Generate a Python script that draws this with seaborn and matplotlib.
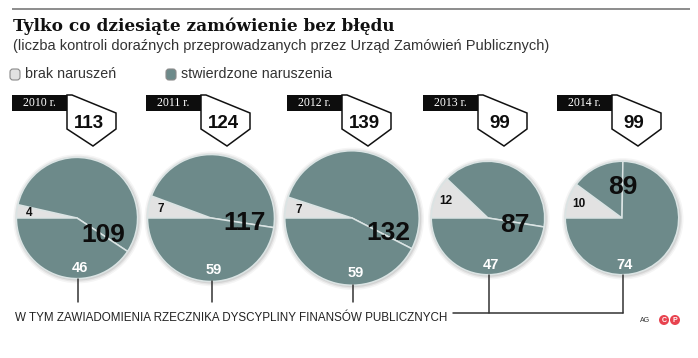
import numpy as np
import matplotlib
matplotlib.use("Agg")
import matplotlib.pyplot as plt
import matplotlib.patches as mpatches
import seaborn as sns

# data
years = ["2010 r.", "2011 r.", "2012 r.", "2013 r.", "2014 r."]
totals = [113, 124, 139, 99, 99]
brak = [4, 7, 7, 12, 10]              # brak naruszeń
stwierdzone = [109, 117, 132, 87, 89]  # stwierdzone naruszenia
rzecznik = [46, 59, 59, 47, 74]        # w tym zawiadomienia rzecznika

# layout (pixels, y measured from the top)
W, H = 698, 358
centers_x = [77, 211, 352, 488, 622]
center_y = 218
big_off = [(26, 17), (34, 5), (36, 15), (27, 7), (1, -31)]

TEAL = "#6d8a8a"
LIGHT = "#e2e2e2"
EDGE = "#dbe4e4"

sns.set_theme(style="white")
plt.rcParams["font.family"] = ["Liberation Sans", "DejaVu Sans"]


def Y(py):
    return H - py


fig = plt.figure(figsize=(W / 100, H / 100), dpi=100)
ax = fig.add_axes([0, 0, 1, 1])

# header
ax.plot([12, 690], [Y(9), Y(9)], color="#8c8c8c", lw=1.4, solid_capstyle="butt")
ax.text(13, Y(31), "Tylko co dziesiąte zamówienie bez błędu", fontsize=12.2,
        fontweight="bold", family=["DejaVu Serif"], color="#111111")
ax.text(13, Y(50), "(liczba kontroli doraźnych przeprowadzanych przez Urząd Zamówień Publicznych)",
        fontsize=10.5, color="#333333")

for x0, col, lab in [(10, LIGHT, "brak naruszeń"), (166, TEAL, "stwierdzone naruszenia")]:
    ax.add_patch(mpatches.FancyBboxPatch((x0, Y(80)), 10, 11, boxstyle="round,pad=0,rounding_size=3",
                                         fc=col, ec="#8a8a8a", lw=0.8))
    ax.text(x0 + 15, Y(74), lab, fontsize=10.3, va="center", color="#333333")

for i in range(len(years)):
    cx, cy = centers_x[i], Y(center_y)
    r = 5.7 * np.sqrt(totals[i])

    # soft shadow
    for k, a in [(4, 0.04), (2.5, 0.06), (1.2, 0.08)]:
        ax.add_patch(mpatches.Circle((cx + 0.8, cy - 0.8), r + k, fc="black", ec="none", alpha=a))

    wedges, _ = ax.pie([brak[i], stwierdzone[i] - rzecznik[i], rzecznik[i]],
                       colors=[LIGHT, TEAL, TEAL], startangle=180, counterclock=False,
                       center=(cx, cy), radius=r, frame=True,
                       wedgeprops=dict(edgecolor=EDGE, linewidth=1.1))

    w = wedges[0]
    mid = np.deg2rad((w.theta1 + w.theta2) / 2)
    ax.text(cx + 0.8 * r * np.cos(mid), cy + 0.8 * r * np.sin(mid), str(brak[i]),
            fontsize=8.5, fontweight="bold", ha="center", va="center", color="#111111")
    dx, dy = big_off[i]
    ax.text(cx + dx, cy - dy, str(stwierdzone[i]), fontsize=19, fontweight="bold",
            ha="center", va="center", color="#0d0d0d")
    ax.text(cx + 0.05 * r, cy - 0.82 * r, str(rzecznik[i]), fontsize=10.5, fontweight="bold",
            ha="center", va="center", color="white")

    # year box with arrow
    bx = cx - 10
    pts = [(0, 0), (5, 0), (49, 18), (49, 34), (26, 51), (0, 34)]
    ax.add_patch(mpatches.Polygon([(bx + px, Y(95 + py)) for px, py in pts], closed=True,
                                  fc="white", ec="#111111", lw=1.1, joinstyle="miter"))
    ax.add_patch(mpatches.Rectangle((bx - 55, Y(111)), 55, 16, fc="#0d0d0d", ec="none"))
    ax.text(bx - 27.5, Y(103), years[i], fontsize=8.5, color="white", ha="center", va="center",
            family=["Liberation Serif", "DejaVu Serif"])
    ax.text(bx + 22, Y(123), str(totals[i]), fontsize=13.5, fontweight="bold",
            ha="center", va="center", color="#0d0d0d")

    # leader lines
    y_end = 302 if i < 3 else 313
    ax.plot([cx + 1, cx + 1], [cy - r, Y(y_end)], color="#333333", lw=1.1)

ax.plot([453, centers_x[4] + 1], [Y(313), Y(313)], color="#333333", lw=1.1)
ax.text(15, Y(318), "W TYM ZAWIADOMIENIA RZECZNIKA DYSCYPLINY FINANSÓW PUBLICZNYCH",
        fontsize=8.4, va="center", color="#222222")

ax.text(640, Y(321), "AG", fontsize=5, va="center", color="#333333")
for x0, ch in [(664, "C"), (675, "P")]:
    ax.add_patch(mpatches.Circle((x0, Y(320)), 5, fc="#e8434f", ec="none"))
    ax.text(x0, Y(320), ch, fontsize=5, fontweight="bold", color="white", ha="center", va="center")

ax.set_xlim(0, W)
ax.set_ylim(0, H)
ax.set_aspect("equal")
ax.axis("off")
fig.savefig("out.png", dpi=100, facecolor="white")
